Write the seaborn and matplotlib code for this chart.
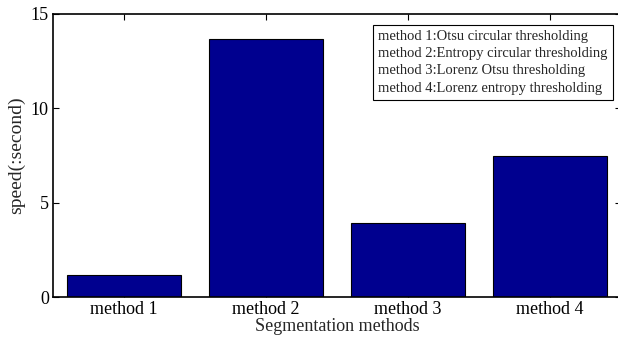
import matplotlib
matplotlib.use("Agg")
import matplotlib.pyplot as plt
import seaborn as sns
import pandas as pd

categories = ["method 1", "method 2", "method 3", "method 4"]
speeds = [1.17, 13.67, 3.93, 7.47]
yticks = [0, 5, 10, 15]
legend_lines = [
    "method 1:Otsu circular thresholding",
    "method 2:Entropy circular thresholding",
    "method 3:Lorenz Otsu thresholding",
    "method 4:Lorenz entropy thresholding",
]

sns.set_style("ticks")
plt.rcParams['font.family'] = ['Liberation Serif', 'DejaVu Serif']

df = pd.DataFrame({"method": categories, "speed": speeds})

fig = plt.figure(figsize=(6.18, 3.44), dpi=100)
ax = fig.add_axes([53/618, 47/344, 568/618, 283/344])
sns.barplot(data=df, x="method", y="speed", color="#00008F", saturation=1,
            width=0.8, edgecolor="black", linewidth=0.8, ax=ax)
ax.set_xlim(-0.5, 3.5)
ax.set_ylim(0, 15)
ax.set_yticks(yticks)
ax.set_yticklabels([str(t) for t in yticks])
for s in ax.spines.values():
    s.set_visible(True)
    s.set_linewidth(1.2)
    s.set_color("black")
ax.tick_params(axis="both", direction="in", length=4, width=0.8,
               top=True, right=True, labelsize=13, colors="black", pad=3)
ax.set_xlabel("Segmentation methods", fontsize=13, labelpad=0)
ax.set_ylabel("speed(:second)", fontsize=14, labelpad=4)
ax.text(0.5724, 0.9435, "\n".join(legend_lines), transform=ax.transAxes,
        fontsize=10.5, va="top", ha="left", linespacing=1.42,
        bbox=dict(boxstyle="square,pad=0.35", facecolor="white", edgecolor="black", linewidth=0.8))
fig.savefig("out.png", dpi=100)
